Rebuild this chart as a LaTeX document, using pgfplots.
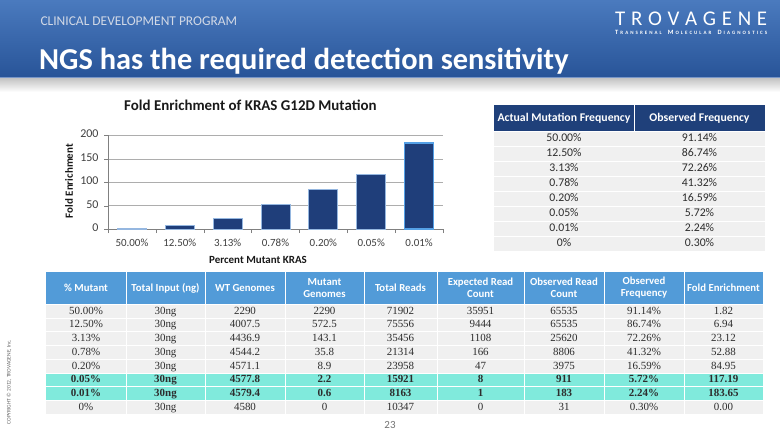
\documentclass[border=0pt]{standalone}
\usepackage{pgfplots}
\pgfplotsset{compat=1.18}
\usepackage{fontspec}
\setmainfont{Carlito}
\newfontfamily\bodyserif{Liberation Serif}
\definecolor{navy}{RGB}{31,62,122}
\definecolor{barborder}{RGB}{149,183,224}
\definecolor{selborder}{RGB}{84,160,230}
\definecolor{hdrblue}{RGB}{82,155,216}
\definecolor{hdrnavy}{RGB}{31,64,122}
\definecolor{rowgrey}{RGB}{240,240,240}
\definecolor{tealrow}{RGB}{128,234,220}
\definecolor{txt}{RGB}{45,45,45}
\definecolor{bandtop}{RGB}{74,122,190}
\definecolor{bandbot}{RGB}{40,84,152}
\definecolor{bandline}{RGB}{120,150,200}
\definecolor{subhead}{RGB}{210,217,230}
\begin{document}
\begin{tikzpicture}
\begin{scope}[x=1bp,y=-1bp]
\path[use as bounding box, fill=white] (0,0) rectangle (780,439);
% header band
\shade[top color=bandtop, bottom color=bandbot] (0,0) rectangle (780,78);
\fill[bandline] (0,77.5) rectangle (780,79);
\shade[top color=black!22, bottom color=white] (0,79) rectangle (780,92);
\node[anchor=west, text=subhead, font=\fontsize{13.5}{14}\selectfont] at (37,21) {CLINICAL DEVELOPMENT PROGRAM};
\node[anchor=base west, text=white, font=\bfseries\fontsize{30.5}{31}\selectfont, inner sep=0] at (39,70) {NGS has the required detection sensitivity};
\node[anchor=base west, text=white, inner sep=0, font=\fontsize{21}{21}\selectfont] at (615,25.5) {\makebox[152bp][s]{T\hfil R\hfil O\hfil V\hfil A\hfil G\hfil E\hfil N\hfil E}};
\node[anchor=base west, text=white, inner sep=0, font=\bfseries] at (615,34.5) {\makebox[152bp][s]{{\fontsize{6.5}{6}\selectfont T}\hfil{\fontsize{5}{6}\selectfont R\hfil A\hfil N\hfil S\hfil R\hfil E\hfil N\hfil A\hfil L}\hfil\hfil\hfil{\fontsize{6.5}{6}\selectfont M}\hfil{\fontsize{5}{6}\selectfont O\hfil L\hfil E\hfil C\hfil U\hfil L\hfil A\hfil R}\hfil\hfil\hfil{\fontsize{6.5}{6}\selectfont D}\hfil{\fontsize{5}{6}\selectfont I\hfil A\hfil G\hfil N\hfil O\hfil S\hfil T\hfil I\hfil C\hfil S}}};
% copyright and page number
\node[rotate=90, text=black!60, font=\fontsize{5.5}{6}\selectfont] at (9,382) {COPYRIGHT \textcopyright\ 2012, TROVAGENE, Inc.};
\node[text=black!55, font=\fontsize{11}{12}\selectfont] at (390,425) {23};
% right table
\fill[hdrnavy] (494,105) rectangle (765,131);
\draw[white, line width=1] (634,105) -- (634,131);
\foreach \i in {0,...,7} {
  \fill[rowgrey] (494,131+15*\i) rectangle (765,146+15*\i);
  \draw[white, line width=0.8] (494,131+15*\i) -- (765,131+15*\i);
}
\tikzset{hcell/.style={text=white, font=\bfseries\fontsize{11.8}{13}\selectfont, inner sep=0, align=center},
         bcell/.style={text=txt, font=\fontsize{11.8}{13}\selectfont, inner sep=0, text height=1.6ex, text depth=0.35ex}}
\node[hcell] at (564,118) {Actual Mutation Frequency};
\node[hcell] at (699.5,118) {Observed Frequency};
\foreach \a/\b [count=\i from 0] in {50.00\%/91.14\%,12.50\%/86.74\%,3.13\%/72.26\%,0.78\%/41.32\%,0.20\%/16.59\%,0.05\%/5.72\%,0.01\%/2.24\%,0\%/0.30\%} {
  \node[bcell] at (564,138.8+15*\i) {\a};
  \node[bcell] at (699.5,138.8+15*\i) {\b};
}
% bottom table
\fill[hdrblue] (46,272) rectangle (763,304.3);
\tikzset{thcell/.style={text=white, font=\bfseries\fontsize{10.8}{12}\selectfont, inner sep=0, align=center},
         tcell/.style={text=txt, font=\bodyserif\fontsize{11}{12}\selectfont, inner sep=0, text height=1.6ex, text depth=0.35ex}}
\node[thcell] at (86,288) {\% Mutant};
\node[thcell] at (165.5,288) {Total Input (ng)};
\node[thcell] at (245,288) {WT Genomes};
\node[thcell] at (324.5,288) {Mutant\\Genomes};
\node[thcell] at (400.5,288) {Total Reads};
\node[thcell] at (480.5,288) {Expected Read\\Count};
\node[thcell] at (564,288) {Observed Read\\Count};
\node[thcell] at (644,288) {Observed\\Frequency};
\node[thcell] at (723.5,288) {Fold Enrichment};
\newcommand\trow[9]{%
  \node[tcell] at (86,\ry) {\rf #1};
  \node[tcell] at (165.5,\ry) {\rf #2};
  \node[tcell] at (245,\ry) {\rf #3};
  \node[tcell] at (324.5,\ry) {\rf #4};
  \node[tcell] at (400.5,\ry) {\rf #5};
  \node[tcell] at (480.5,\ry) {\rf #6};
  \node[tcell] at (564,\ry) {\rf #7};
  \node[tcell] at (644,\ry) {\rf #8};
  \node[tcell] at (723.5,\ry) {\rf #9};}
\foreach \i in {0,...,7} {
  \fill[rowgrey] (46,304.3+13.75*\i) rectangle (763,318.05+13.75*\i);
}
\fill[tealrow] (46,373.05) rectangle (763,400.55);
\foreach \i in {0,...,8} {\draw[white, line width=0.8] (46,304.3+13.75*\i) -- (763,304.3+13.75*\i);}
\foreach \xx in {126,205,285,364,437,524,604,684} {\draw[white, line width=1] (\xx,272) -- (\xx,414.3);}
\def\rf{}
\def\ry{311.2}\trow{50.00\%}{30ng}{2290}{2290}{71902}{35951}{65535}{91.14\%}{1.82}
\def\ry{324.9}\trow{12.50\%}{30ng}{4007.5}{572.5}{75556}{9444}{65535}{86.74\%}{6.94}
\def\ry{338.7}\trow{3.13\%}{30ng}{4436.9}{143.1}{35456}{1108}{25620}{72.26\%}{23.12}
\def\ry{352.4}\trow{0.78\%}{30ng}{4544.2}{35.8}{21314}{166}{8806}{41.32\%}{52.88}
\def\ry{366.2}\trow{0.20\%}{30ng}{4571.1}{8.9}{23958}{47}{3975}{16.59\%}{84.95}
\def\rf{\bfseries}
\def\ry{379.9}\trow{0.05\%}{30ng}{4577.8}{2.2}{15921}{8}{911}{5.72\%}{117.19}
\def\ry{393.7}\trow{0.01\%}{30ng}{4579.4}{0.6}{8163}{1}{183}{2.24\%}{183.65}
\def\rf{}
\def\ry{407.4}\trow{0\%}{30ng}{4580}{0}{10347}{0}{31}{0.30\%}{0.00}
\end{scope}
\begin{axis}[
  at={(108bp,-229bp)}, anchor=south west, scale only axis,
  width=335bp, height=93.5bp,
  xmin=-0.5, xmax=6.5, ymin=0, ymax=200,
  ybar, bar width=29bp, bar shift=0pt,
  axis lines=left, axis line style={-, draw=black!50},
  tick align=outside, major tick length=4bp, tick style={draw=black!50},
  ytick={0,50,100,150,200},
  ymajorgrids, grid style={draw=black!32},
  xtick={-0.5,0.5,...,6.5},
  xticklabels={50.00\%,12.50\%,3.13\%,0.78\%,0.20\%,0.05\%,0.01\%,{}},
  typeset ticklabels with strut,
  xticklabel style={xshift=23.93bp, yshift=-2bp, font=\fontsize{11}{12}\selectfont, text=black!75},
  yticklabel style={xshift=-2bp, font=\fontsize{12}{12}\selectfont, text=black!75},
  /pgf/number format/assume math mode=true,
  title={Fold Enrichment of KRAS G12D Mutation},
  title style={at={(axis description cs:0.425,1.262)}, anchor=center, font=\bfseries\fontsize{15}{16}\selectfont, text=black!90},
  xlabel={Percent Mutant KRAS},
  xlabel style={at={(axis description cs:0.448,-0.332)}, anchor=center, font=\bfseries\fontsize{11}{12}\selectfont, text=black!90},
  ylabel={Fold Enrichment},
  ylabel style={at={(axis description cs:-0.116,0.513)}, anchor=center, font=\bfseries\fontsize{11}{12}\selectfont, text=black!90},
  clip=false,
]
\addplot[fill=navy, draw=barborder, line width=1bp] coordinates {(0,1.82) (1,6.94) (2,23.12) (3,52.88) (4,84.95) (5,117.19)};
\addplot[fill=navy, draw=selborder, line width=1.8bp] coordinates {(6,183.65)};
\end{axis}
\end{tikzpicture}
\end{document}
